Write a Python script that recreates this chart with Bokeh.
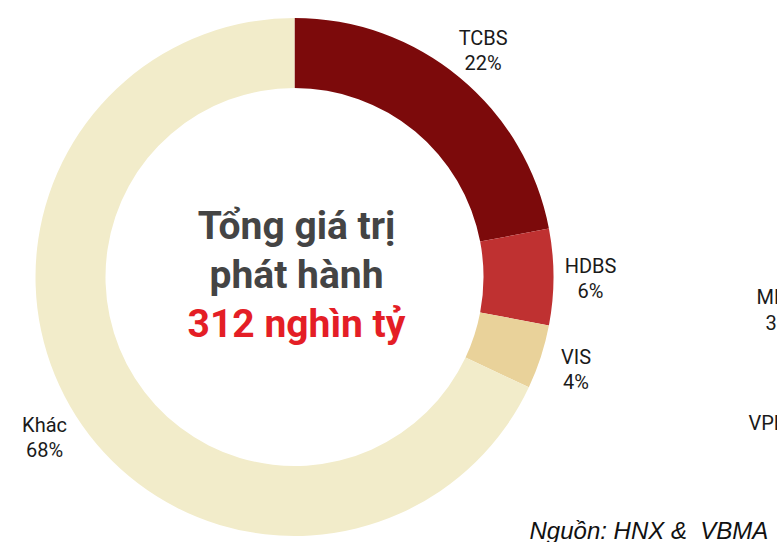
import numpy as np
from bokeh.plotting import figure
from bokeh.models import Range1d
from bokeh.core.properties import value
from bokeh.embed import file_html
from bokeh.resources import INLINE

# ---- data ----
names = ["TCBS", "HDBS", "VIS", "Khác"]
shares = [22, 6, 4, 68]
pct_labels = ["22%", "6%", "4%", "68%"]
colors = ["#7C0A0B", "#BF3131", "#E9D29A", "#F2ECCA"]
center_lines = ["Tổng giá trị", "phát hành", "312 nghìn tỷ"]
center_colors = ["#444444", "#444444", "#E41E26"]
source_note = "Nguồn: HNX &\u00a0 VBMA"
edge_names = ["MBS", "VPBS"]   # labels of the neighbouring (cut-off) chart
edge_pcts = ["3%"]

# ---- layout ----
W, H = 777, 542
cx, cy = 294, 265.5
r_out, r_in = 259, 189
r_lab = 296

frac = np.array(shares, dtype=float) / sum(shares)
cum = np.concatenate([[0.0], np.cumsum(frac)])
start = np.pi / 2 - 2 * np.pi * cum[:-1]
end = np.pi / 2 - 2 * np.pi * cum[1:]
mid = (start + end) / 2

p = figure(width=W, height=H, x_range=Range1d(0, W), y_range=Range1d(0, H),
           output_backend="svg", toolbar_location=None, min_border=0)
p.axis.visible = False
p.grid.visible = False
p.outline_line_color = None
p.background_fill_color = "white"
p.border_fill_color = "white"

p.annular_wedge(x=cx, y=cy, inner_radius=r_in, outer_radius=r_out,
                start_angle=list(start), end_angle=list(end), direction="clock",
                fill_color=colors, line_color=None)

lx = cx + r_lab * np.cos(mid)
ly = cy + r_lab * np.sin(mid)
font = value("Roboto")
p.text(x=list(lx), y=list(ly + 11), text=names, text_align="center",
       text_baseline="alphabetic", text_font=font, text_font_size="20px",
       text_color="#1a1a1a")
p.text(x=list(lx), y=list(ly - 14), text=pct_labels, text_align="center",
       text_baseline="alphabetic", text_font=font, text_font_size="20px",
       text_color="#1a1a1a")

# centre title
cys = [cy + 51 - 49 * i for i in range(len(center_lines))]
p.text(x=[cx + 2] * len(center_lines), y=cys, text=center_lines,
       text_align="center", text_baseline="alphabetic", text_font=font,
       text_font_style="bold", text_font_size="39px", text_color=center_colors)

# neighbouring chart labels, cut by the edge
p.text(x=[756, 748], y=[246, 120], text=edge_names, text_align="left",
       text_baseline="alphabetic", text_font=font, text_font_size="20px",
       text_color="#1a1a1a")
p.text(x=[765], y=[220], text=edge_pcts, text_align="left",
       text_baseline="alphabetic", text_font=font, text_font_size="20px",
       text_color="#1a1a1a")

# source
p.text(x=[529], y=[12], text=[source_note], text_align="left",
       text_baseline="alphabetic", text_font=value("Liberation Sans"),
       text_font_style="italic", text_font_size="24px", text_color="#111111")

open("out.html", "w").write(file_html(p, INLINE))
